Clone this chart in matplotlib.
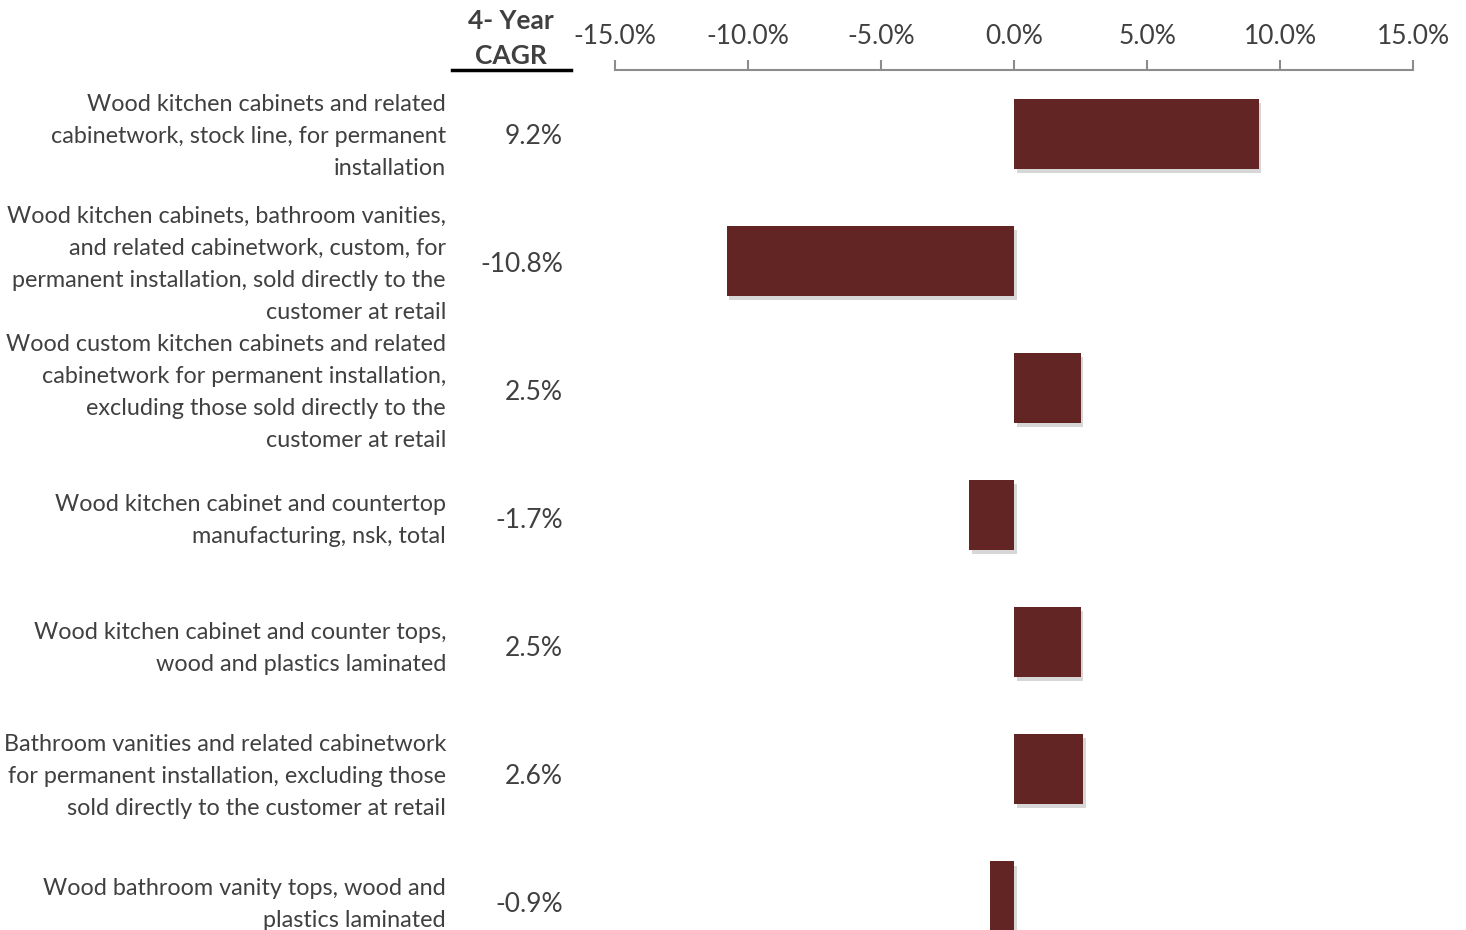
import matplotlib.pyplot as plt
import matplotlib.patheffects as pe
from matplotlib.transforms import blended_transform_factory, ScaledTranslation

# Data
categories = [
    "Wood kitchen cabinets and related\ncabinetwork, stock line, for permanent\ninstallation",
    "Wood kitchen cabinets, bathroom vanities,\nand related cabinetwork, custom, for\npermanent installation, sold directly to the\ncustomer at retail",
    "Wood custom kitchen cabinets and related\ncabinetwork for permanent installation,\nexcluding those sold directly to the\ncustomer at retail",
    "Wood kitchen cabinet and countertop\nmanufacturing, nsk, total",
    "Wood kitchen cabinet and counter tops,\nwood and plastics laminated",
    "Bathroom vanities and related cabinetwork\nfor permanent installation, excluding those\nsold directly to the customer at retail",
    "Wood bathroom vanity tops, wood and\nplastics laminated",
]
cagr = [9.2, -10.8, 2.5, -1.7, 2.5, 2.6, -0.9]
ticks = [-15, -10, -5, 0, 5, 10, 15]

bar_color = "#632523"
text_color = "#404040"

plt.rcParams['font.family'] = ['Lato', 'DejaVu Sans']

fig = plt.figure(figsize=(14.66, 9.3), dpi=100)
ax = fig.add_axes([615 / 1466, -30 / 930, 798 / 1466, 890 / 930])

y = list(range(len(cagr)))
bars = ax.barh(y, cagr, height=0.55, color=bar_color)
for b in bars:
    b.set_path_effects([pe.SimplePatchShadow(offset=(2, -3), shadow_rgbFace='#b0b0b0', alpha=0.5),
                        pe.Normal()])

ax.set_xlim(-15, 15)
ax.set_ylim(6.5, -0.5)
ax.xaxis.tick_top()
ax.set_xticks(ticks)
ax.set_xticklabels([f"{t:.1f}%" for t in ticks], fontsize=19, color=text_color)
ax.tick_params(axis='x', direction='out', length=7, width=1.5, color='#8c8c8c', pad=8)
ax.set_yticks([])
for s in ['bottom', 'left', 'right']:
    ax.spines[s].set_visible(False)
ax.spines['top'].set_color('#8c8c8c')
ax.spines['top'].set_linewidth(1.5)

# category labels and CAGR values, nudged down a little
trans = blended_transform_factory(fig.transFigure, ax.transData)
for i, (lab, v) in enumerate(zip(categories, cagr)):
    shift = ScaledTranslation(0, -(3 + 0.8 * i) / 100, fig.dpi_scale_trans)
    ax.text(446 / 1466, i, lab, transform=trans + shift, ha='right', va='center',
            fontsize=16.8, color=text_color, linespacing=1.64)
    ax.text(563 / 1466, i, f"{v:.1f}%", transform=trans + shift, ha='right', va='center',
            fontsize=19, color=text_color)

# header
fig.text(511 / 1466, 1 - 38.5 / 930, "4- Year\nCAGR", ha='center', va='center', fontsize=19,
         fontweight='bold', color=text_color, linespacing=1.58)
fig.add_artist(plt.Line2D([452 / 1466, 571 / 1466], [1 - 70 / 930, 1 - 70 / 930], color='black', lw=2.5))

fig.savefig("out.png", dpi=100)
